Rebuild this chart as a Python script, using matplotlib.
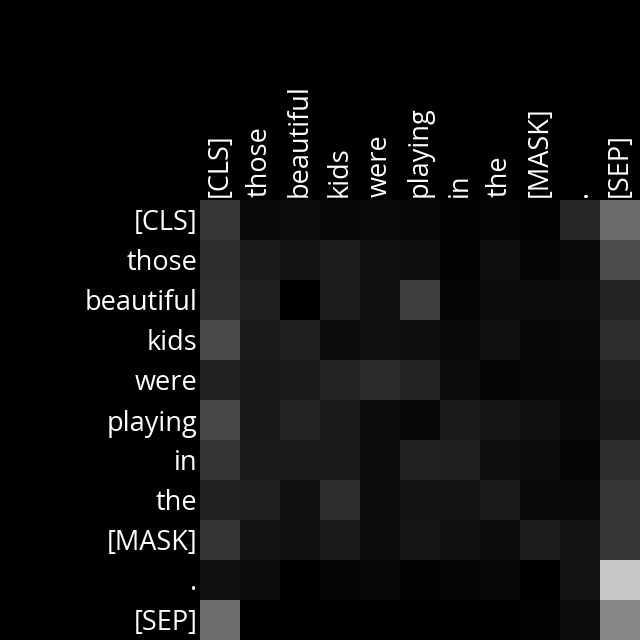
import numpy as np
import matplotlib.pyplot as plt

tokens = ["[CLS]", "those", "beautiful", "kids", "were", "playing",
          "in", "the", "[MASK]", ".", "[SEP]"]

# attention weights, on a 0-255 gray scale
attn = np.array([
    [55, 10, 11, 6, 9, 8, 2, 5, 3, 38, 107],
    [46, 26, 20, 28, 17, 15, 3, 14, 4, 10, 76],
    [47, 31, 0, 28, 16, 62, 5, 12, 11, 11, 36],
    [74, 27, 32, 13, 16, 14, 10, 16, 6, 10, 46],
    [34, 24, 25, 37, 43, 36, 11, 4, 8, 8, 33],
    [72, 23, 35, 26, 12, 7, 27, 22, 17, 9, 25],
    [51, 25, 25, 26, 11, 34, 32, 15, 12, 5, 44],
    [34, 30, 17, 46, 11, 20, 19, 25, 10, 9, 54],
    [51, 18, 16, 27, 13, 21, 16, 11, 28, 18, 55],
    [17, 11, 0, 4, 6, 3, 4, 6, 1, 18, 200],
    [110, 0, 0, 0, 0, 0, 0, 1, 3, 13, 134],
])

plt.rcParams['font.family'] = ['Open Sans', 'DejaVu Sans']

fig = plt.figure(figsize=(6.4, 6.4), dpi=100, facecolor="black")
ax = fig.add_axes([200/640, 0, 440/640, 440/640])
ax.imshow(attn, cmap="gray", vmin=0, vmax=255, aspect="auto")

ax.set_xticks(range(len(tokens)))
ax.set_xticklabels(tokens, rotation=90, fontsize=19.5, color="white")
ax.set_yticks(range(len(tokens)))
ax.set_yticklabels(tokens, fontsize=19.5, color="white")
ax.xaxis.tick_top()
ax.tick_params(length=0, pad=2)
for s in ax.spines.values():
    s.set_visible(False)

fig.savefig("out.png", dpi=100, facecolor="black")
